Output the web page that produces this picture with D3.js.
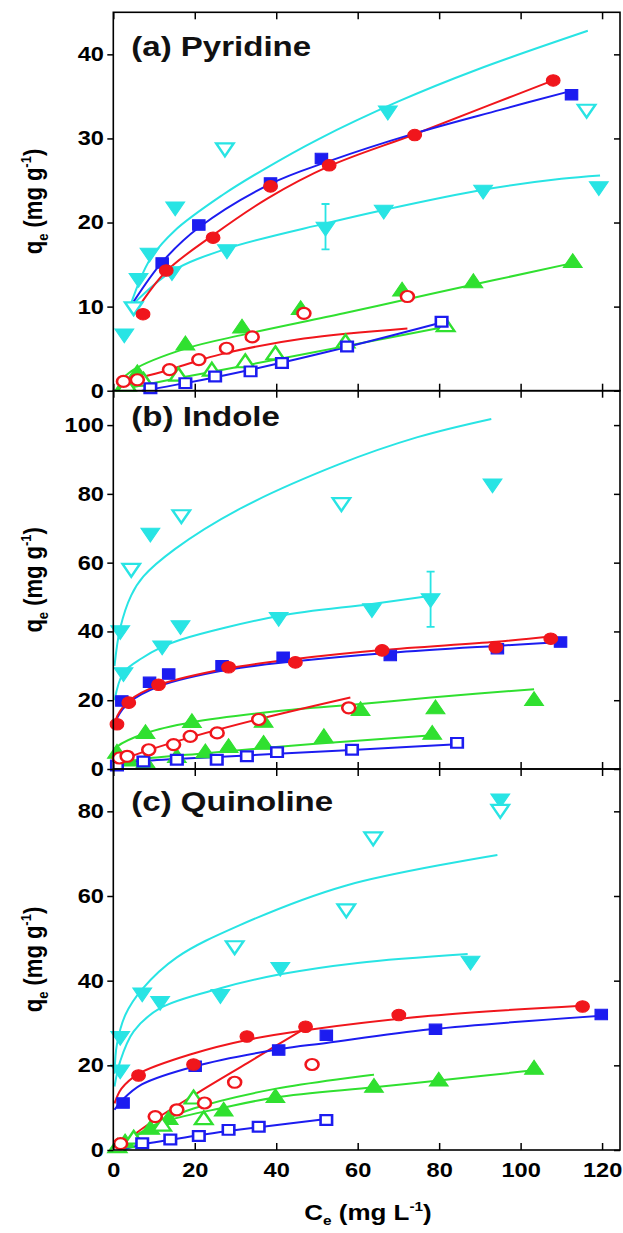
<!DOCTYPE html>
<html>
<head>
<meta charset="utf-8">
<script src="https://cdn.jsdelivr.net/npm/d3@7"></script>
<style>
    body{margin:0;background:#fff;}
    svg{display:block;}
</style>
</head>
<body>
<svg id="chart" width="623" height="1233"></svg>
<script>
// ---- data (C_e in mg/L, q_e in mg/g) ----
const xTicks = [0, 20, 40, 60, 80, 100, 120];
const panelTitles = ["(a) Pyridine", "(b) Indole", "(c) Quinoline"];
const yTicksA = [0, 10, 20, 30, 40];
const yTicksB = [0, 20, 40, 60, 80, 100];
const yTicksC = [0, 20, 40, 60, 80];

// (a) Pyridine
const aBlueFill = [[12,15.2],[21,19.7],[38.6,24.7],[51.1,27.6],[112.5,35.2]];
const aBlueFillFit = [[5,10.6],[12,15.3],[21,19.4],[38.6,24.6],[53,27.3],[74,30.6],[95,33.4],[112,35.6]];
const aRedFill = [[7.3,9.1],[13,14.3],[24.5,18.2],[38.6,24.3],[53,26.8],[74,30.4],[108,36.9]];
const aRedFillFit = [[6,9.8],[13,14.2],[24.5,18.5],[38,22.9],[53,26.7],[74,30.5],[92,33.9],[108,36.9]];
const aCyanFill = [[2.7,6.8],[6.2,13.4],[8.9,16.4],[15.2,21.9],[67.4,33.3]];
const aCyanOpen = [[5,10],[27.4,28.9],[116.2,33.5]];
const aCyanUpperFit = [[4.3,10.3],[9,15.6],[15,19.0],[26.9,23.3],[36.9,26.3],[50.3,29.9],[70,34.4],[89.4,38.2],[116.5,42.8]];
const aCyanLower = [[14.4,14.2],[27.9,16.8],[52.1,19.5],[66.4,21.5],[90.8,23.9],[119.2,24.3]];
const aCyanLowerFit = [[5.3,10.5],[14.4,14.2],[27.9,16.9],[52.1,19.9],[66.4,21.5],[90.8,23.9],[110,25.2],[119.5,25.6]];
const aCyanErr = [[52.1,16.8,22.2]];
const aGreenFill = [[2.9,0.7],[5.9,2.0],[17.7,5.4],[31.6,7.4],[46,9.6],[70.9,11.8],[88.4,12.8],[112.8,15.2]];
const aGreenFillFit = [[1,0.8],[5,2.5],[17.7,5.0],[32.3,6.7],[56.6,9.2],[77.9,11.5],[113,15.2]];
const aRedOpen = [[2.5,1.1],[5.9,1.3],[13.8,2.5],[21,3.7],[27.8,5.05],[34.1,6.4],[46.8,9.2],[72.2,11.2]];
const aRedOpenFit = [[1,0.9],[13.8,2.5],[21,3.6],[27.8,4.5],[46.8,6.2],[72.2,7.4]];
const aGreenOpen = [[3.3,0.5],[7.4,1.1],[16,1.7],[24.2,2.3],[32.4,3.3],[39.8,4.25],[57,5.65],[81.6,7.6]];
const aGreenOpenFit = [[0.3,0],[16,1.5],[32.4,3.0],[57,5.3],[81.6,7.6]];
const aBlueOpen = [[9.1,0.3],[17.7,0.9],[25,1.7],[33.7,2.3],[41.4,3.3],[57.4,5.25],[80.6,8.2]];
const aBlueOpenFit = [[7,0],[17.7,0.9],[33.7,2.5],[57.4,5.2],[80.6,8.1]];

// (b) Indole
const bCyanFill = [[1.7,40.3],[9.1,68.7],[93.1,83]];
const bCyanOpen = [[4.4,58.4],[16.7,74],[56,77.5]];
const bCyanUpperFit = [[0.3,30],[1.7,41],[4.4,50.5],[7.4,56],[15.2,64],[30.8,75.5],[55.2,88.5],[74.7,96.5],[92.8,101.8]];
const bCyanLower = [[2.5,28.1],[12,35.9],[16.5,41.8],[40.6,44.2],[63.5,46.7],[77.9,49.6]];
const bCyanLowerFit = [[0.3,20],[2.5,28],[7,32.2],[12,35.5],[16.5,37.6],[40.6,44.5],[63.5,48],[78,50.4]];
const bCyanErr = [[77.9,41.3,57.4]];
const bRedFill = [[0.9,13],[3.8,19.3],[11.1,24.5],[28.3,29.6],[44.7,31],[66,34.5],[93.9,35.4],[107.4,37.9]];
const bRedFillFit = [[0.2,12.5],[1,15.5],[3.8,19.8],[11.1,24.4],[28.3,29.3],[44.7,32],[66,34.6],[94,37],[108,38.6]];
const bBlueFill = [[2.1,19.8],[8.9,25.2],[13.6,27.6],[26.7,30],[41.7,32.5],[68,33],[94.3,35],[109.8,36.9]];
const bBlueFillFit = [[0.2,12],[1,15],[3.8,19.3],[11.1,24],[28.3,28.9],[44.7,31.3],[68,33.8],[94,35.8],[110,36.9]];
const bRedOpen = [[1.5,3.2],[3.4,3.7],[8.7,5.6],[14.8,7.1],[18.9,9.5],[25.5,10.5],[35.7,14.4],[57.8,17.8]];
const bRedOpenFit = [[0,1.8],[8.7,5.5],[18.9,9.2],[35.7,14.5],[58.2,20.8]];
const bGreenFill = [[0.9,4.5],[7.9,10.2],[19.3,13.4],[36.9,13.5],[60.7,16.9],[79.1,17.4],[103.3,19.8]];
const bGreenFillFit = [[0,5],[0.9,6.5],[7.9,10.4],[19.3,13.6],[40,16.8],[60.7,18.9],[78,20.8],[103.3,23.2]];
const bGreenOpen = [[3.8,2.2],[7.9,1.7],[15.6,3.2],[22.6,4.6],[28.3,6.1],[36.9,7.1],[51.7,9],[78.3,10]];
const bGreenOpenFit = [[0,1.5],[7.9,3],[22.6,4.6],[36.9,6.1],[60.7,8.3],[78.3,9.8]];
const bBlueOpen = [[0.9,1],[7.4,2.2],[15.6,2.7],[25.4,2.7],[32.8,3.7],[40.2,4.9],[58.6,5.6],[84.4,7.6]];
const bBlueOpenFit = [[0,1.2],[7.4,2.3],[25.4,3.5],[40.2,4.4],[58.6,5.5],[84.4,7.2]];

// (c) Quinoline
const cCyanFill = [[1.7,26.9],[7.1,37.2],[95,83]];
const cCyanOpen = [[29.8,48.3],[57.2,57],[63.8,74],[95,80.5]];
const cCyanUpperFit = [[0.3,18],[0.9,25],[3,32],[7.1,38],[15.6,45.5],[30.8,53],[57.2,62.5],[94.3,69.7]];
const cCyanLower = [[1.7,19],[11.5,35.2],[26.3,36.8],[41,43.2],[87.7,44.7]];
const cCyanLowerFit = [[0.3,15],[1.7,21],[5,28],[11.5,33.5],[26.3,38.2],[41,41.5],[60,44.2],[87,46.3]];
const cRedFill = [[6.2,17.6],[19.7,20.2],[32.8,26.8],[47.2,29.1],[70.1,31.9],[115.2,33.9]];
const cRedFillFit = [[0.3,11],[2,14.5],[6.2,18],[19.7,22.8],[32.8,26],[47.2,28.3],[77.9,31.7],[115,34.1]];
const cBlueFill = [[2.4,11.1],[20.1,19.8],[40.6,23.6],[52.3,27.1],[79.1,28.5],[119.8,32]];
const cBlueFillFit = [[0.3,9.5],[2.4,12],[7,15.5],[20.1,19.8],[40.6,23.8],[52.3,25.3],[77.9,28.5],[119.8,31.7]];
const cRedOpen = [[1.8,1.5],[10.3,7.9],[15.6,9.5],[22.4,11.1],[29.8,16],[48.8,20.2]];
const cRedOpenFit = [[0.5,0.3],[10.3,7.2],[22.4,14.5],[33,20.6],[47.2,28.8]];
const cGreenFill = [[2.9,1.6],[9.1,4.8],[13.6,7.1],[27.1,9.1],[39.8,12.3],[64,14.7],[79.9,16.2],[103.3,19]];
const cGreenFillFit = [[0,0],[2.9,2],[9.1,5],[13.6,7],[27.1,10],[39.8,12.4],[64,14.8],[79.9,16.4],[104.9,19]];
const cGreenOpen = [[1,0.5],[5,2.5],[12,5.6],[19.7,12],[22.2,7.1]];
const cGreenOpenFit = [[0,0],[5,3.2],[12,6.8],[19.7,9.8],[40,14.5],[64,17.8]];
const cBlueOpen = [[7.1,1.6],[14,2.5],[21,3.3],[28.3,4.75],[35.7,5.5],[52.3,7.1]];
const cBlueOpenFit = [[2,0],[7.1,1.3],[14,2.4],[21,3.5],[28.3,4.5],[35.7,5.4],[52.3,7.3]];

const BLUE = "#1c1cf0";
const RED = "#f0161c";
const GREEN = "#30e030";
const CYAN = "#28e4e4";
const FONT = "'Liberation Sans', Arial, sans-serif";
const STRETCH = 1.18;   // the original figure is squeezed wider than tall

function series(pts, color, shape, open){
    return {pts: pts, color: color, shape: shape, open: open};
}

const svg = d3.select("#chart");
const xScale = d3.scaleLinear().domain([0, 124.4]).range([113.3, 620]);

class Panel{
    constructor(cfg){
        this.top = cfg.top;
        this.bottom = cfg.bottom;
        this.title = cfg.title;
        this.titleY = cfg.titleY;
        this.ticks = cfg.ticks;
        this.fits = cfg.fits;
        this.points = cfg.points;
        this.errors = cfg.errors;
        this.showX = cfg.showX;
        this.y = d3.scaleLinear().domain([0, cfg.ymax]).range([this.bottom, this.top]);
        this.g = svg.append("g");
    }

    axes(){
        let left = xScale.range()[0], right = xScale.range()[1];
        let styleAxis = (g) => {
            g.select(".domain").remove();
            g.selectAll("line").attr("stroke", "#000").attr("stroke-width", 1.5);
        };

        let yl = this.g.append("g")
            .attr("transform", `translate(${left},0)`)
            .call(d3.axisLeft(this.y).tickValues(this.ticks).tickSize(6).tickPadding(2))
            .call(styleAxis)
            .attr("font-family", FONT)
            .attr("font-size", 20)
            .attr("font-weight", "bold");
        yl.selectAll("text").attr("fill", "#000").attr("transform", `scale(${STRETCH},1)`);

        // inner ticks on the other three sides
        this.g.append("g")
            .attr("transform", `translate(${right},0)`)
            .call(d3.axisLeft(this.y).tickValues(this.ticks).tickSize(6).tickFormat(""))
            .call(styleAxis);
        this.g.append("g")
            .attr("transform", `translate(0,${this.bottom})`)
            .call(d3.axisTop(xScale).tickValues(xTicks).tickSize(7).tickFormat(""))
            .call(styleAxis);
        this.g.append("g")
            .attr("transform", `translate(0,${this.top})`)
            .call(d3.axisBottom(xScale).tickValues(xTicks).tickSize(7).tickFormat(""))
            .call(styleAxis);

        if (this.showX){
            let xl = this.g.append("g")
                .attr("transform", `translate(0,${this.bottom})`)
                .call(d3.axisBottom(xScale).tickValues(xTicks).tickSize(0).tickPadding(13))
                .call(styleAxis)
                .attr("font-family", FONT)
                .attr("font-size", 20)
                .attr("font-weight", "bold");
            xl.selectAll("text").attr("fill", "#000").attr("transform", `scale(${STRETCH},1)`);
        }

        this.g.append("rect")
            .attr("x", left)
            .attr("y", this.top)
            .attr("width", right - left)
            .attr("height", this.bottom - this.top)
            .attr("fill", "none")
            .attr("stroke", "#000")
            .attr("stroke-width", 1.6);
    }

    curves(){
        let line = d3.line()
            .x(d => xScale(d[0]))
            .y(d => this.y(d[1]))
            .curve(d3.curveCatmullRom.alpha(0.5));
        this.fits.forEach(f => {
            this.g.append("path")
                .attr("d", line(f.pts))
                .attr("fill", "none")
                .attr("stroke", f.color)
                .attr("stroke-width", 2);
        });
    }

    markers(){
        let shapes = {square: d3.symbolSquare, circle: d3.symbolCircle,
                      up: d3.symbolTriangle, down: d3.symbolTriangle};
        this.errors.forEach(e => {
            e.pts.forEach(d => {
                let x = xScale(d[0]);
                this.g.append("path")
                    .attr("d", `M${x},${this.y(d[1])}V${this.y(d[2])}M${x-4},${this.y(d[1])}h8M${x-4},${this.y(d[2])}h8`)
                    .attr("stroke", e.color)
                    .attr("stroke-width", 1.8)
                    .attr("fill", "none");
            });
        });
        this.points.forEach(s => {
            let size = s.open ? 95 : (s.shape == "circle" ? 105 : 110);
            let sym = d3.symbol().type(shapes[s.shape]).size(size);
            this.g.append("g").selectAll("path")
                .data(s.pts)
                .join("path")
                .attr("d", sym)
                .attr("transform", d => `translate(${xScale(d[0])},${this.y(d[1])}) scale(${STRETCH},1)` +
                                        (s.shape == "down" ? " rotate(180)" : ""))
                .attr("fill", s.open ? "#fff" : s.color)
                .attr("stroke", s.color)
                .attr("stroke-width", s.open ? 2.2 : 1);
        });
    }

    labels(){
        let left = xScale.range()[0];
        this.g.append("text")
            .attr("transform", `translate(${left + 18},${this.titleY}) scale(${STRETCH},1)`)
            .attr("font-family", FONT)
            .attr("font-size", 28)
            .attr("font-weight", "bold")
            .attr("fill", "#111")
            .text(this.title);

        let cy = (this.top + this.bottom) / 2;
        let t = this.g.append("text")
            .attr("transform", `translate(42,${cy}) scale(${STRETCH},1) rotate(-90)`)
            .attr("text-anchor", "middle")
            .attr("font-family", FONT)
            .attr("font-size", 22)
            .attr("font-weight", "bold")
            .attr("fill", "#000");
        t.append("tspan").text("q");
        t.append("tspan").attr("font-size", 13).attr("dy", 5).text("e");
        t.append("tspan").attr("dy", -5).text(" (mg g");
        t.append("tspan").attr("font-size", 13).attr("dy", -9).text("-1");
        t.append("tspan").attr("dy", 9).text(")");
    }

    make(){
        this.curves();
        this.markers();
        this.axes();
        this.labels();
    }
}

const panelA = new Panel({
    top: 12.3, bottom: 390.7, ymax: 45, ticks: yTicksA, title: panelTitles[0], titleY: 56, showX: false,
    fits: [series(aCyanUpperFit, CYAN), series(aCyanLowerFit, CYAN),
           series(aGreenFillFit, GREEN), series(aGreenOpenFit, GREEN),
           series(aRedOpenFit, RED), series(aBlueOpenFit, BLUE),
           series(aRedFillFit, RED), series(aBlueFillFit, BLUE)],
    points: [series(aCyanFill, CYAN, "down", false), series(aCyanOpen, CYAN, "down", true),
             series(aCyanLower, CYAN, "down", false),
             series(aGreenFill, GREEN, "up", false), series(aGreenOpen, GREEN, "up", true),
             series(aBlueOpen, BLUE, "square", true), series(aRedOpen, RED, "circle", true),
             series(aBlueFill, BLUE, "square", false), series(aRedFill, RED, "circle", false)],
    errors: [{pts: aCyanErr, color: CYAN}]
});

const panelB = new Panel({
    top: 390.7, bottom: 769, ymax: 110, ticks: yTicksB, title: panelTitles[1], titleY: 426, showX: false,
    fits: [series(bCyanUpperFit, CYAN), series(bCyanLowerFit, CYAN),
           series(bGreenFillFit, GREEN), series(bGreenOpenFit, GREEN),
           series(bRedOpenFit, RED), series(bBlueOpenFit, BLUE),
           series(bBlueFillFit, BLUE), series(bRedFillFit, RED)],
    points: [series(bCyanFill, CYAN, "down", false), series(bCyanOpen, CYAN, "down", true),
             series(bCyanLower, CYAN, "down", false),
             series(bGreenFill, GREEN, "up", false), series(bGreenOpen, GREEN, "up", false),
             series(bBlueOpen, BLUE, "square", true), series(bRedOpen, RED, "circle", true),
             series(bBlueFill, BLUE, "square", false), series(bRedFill, RED, "circle", false)],
    errors: [{pts: bCyanErr, color: CYAN}]
});

const panelC = new Panel({
    top: 769, bottom: 1150, ymax: 90, ticks: yTicksC, title: panelTitles[2], titleY: 811, showX: true,
    fits: [series(cCyanUpperFit, CYAN), series(cCyanLowerFit, CYAN),
           series(cGreenFillFit, GREEN), series(cGreenOpenFit, GREEN),
           series(cRedOpenFit, RED), series(cBlueOpenFit, BLUE),
           series(cBlueFillFit, BLUE), series(cRedFillFit, RED)],
    points: [series(cCyanFill, CYAN, "down", false), series(cCyanOpen, CYAN, "down", true),
             series(cCyanLower, CYAN, "down", false),
             series(cGreenFill, GREEN, "up", false), series(cGreenOpen, GREEN, "up", true),
             series(cBlueOpen, BLUE, "square", true), series(cRedOpen, RED, "circle", true),
             series(cBlueFill, BLUE, "square", false), series(cRedFill, RED, "circle", false)],
    errors: []
});

[panelA, panelB, panelC].forEach(p => p.make());

/* x axis title */
let xt = svg.append("text")
    .attr("transform", `translate(368,1220) scale(${STRETCH},1)`)
    .attr("text-anchor", "middle")
    .attr("font-family", FONT)
    .attr("font-size", 22)
    .attr("font-weight", "bold")
    .attr("fill", "#000");
xt.append("tspan").text("C");
xt.append("tspan").attr("font-size", 13).attr("dy", 5).text("e");
xt.append("tspan").attr("dy", -5).text(" (mg L");
xt.append("tspan").attr("font-size", 13).attr("dy", -9).text("-1");
xt.append("tspan").attr("dy", 9).text(")");
</script>
</body>
</html>
